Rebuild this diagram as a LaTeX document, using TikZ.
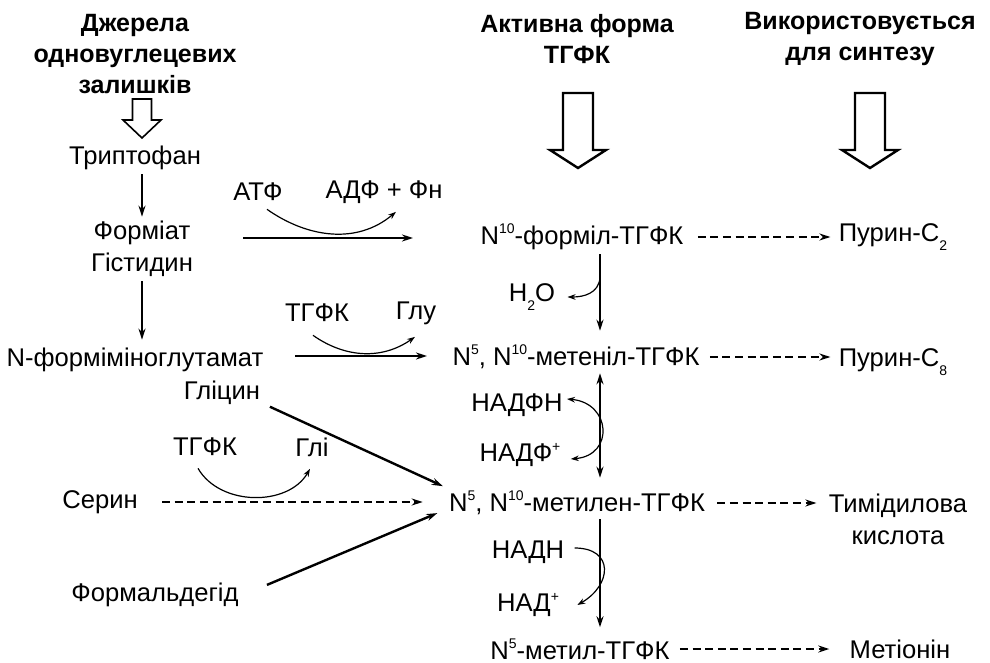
\documentclass[tikz,border=0pt]{standalone}
\usepackage{fontspec}
\setmainfont{Liberation Sans}
\usetikzlibrary{arrows.meta, calc}
\newcommand{\supnum}[1]{\raisebox{0.42em}{\fontsize{7}{8}\selectfont #1}}
\newcommand{\subnum}[1]{\raisebox{-0.36em}{\fontsize{7}{8}\selectfont #1}}

\begin{document}
\begin{tikzpicture}[x=0.5pt, y=-0.5pt, font=\fontsize{12.8}{16}\selectfont, inner sep=2pt,
  head/.style={font=\fontsize{12.5}{15.5}\selectfont\bfseries, align=center},
  arr/.style={-{Stealth[length=5.5pt, width=3.5pt]}, line width=1.2pt},
  dblarr/.style={arr, {Stealth[length=5.5pt, width=3.5pt]}-{Stealth[length=5.5pt, width=3.5pt]}},
  dasharr/.style={arr, dash pattern=on 4pt off 2.3pt},
  curvearr/.style={-{Stealth[length=4pt, width=2.8pt]}, line width=0.6pt},
  dblcurve/.style={curvearr, {Stealth[length=4pt, width=2.8pt]}-{Stealth[length=4pt, width=2.8pt]}},
  hollow/.style={line width=1.2pt, fill=white, line join=miter}]
  \useasboundingbox (0,0) rectangle (990,663);

  % headers
  \node[head] (h1) at (135,54) {Джерела\\одновуглецевих\\залишків};
  \node[head] (h2) at (577,39) {Активна форма\\ТГФК};
  \node[head] (h3) at (860,39) {Використовується\\для синтезу};

  % hollow arrows under the headers
  \draw[hollow, line width=0.8pt] (132.5,99) -- (151.5,99) -- (151.5,120) -- (161,120) -- (142,138)
    -- (123,120) -- (132.5,120) -- cycle;
  \foreach \x in {578,870}
    \draw[hollow] (\x-15,93) -- (\x+15,93) -- (\x+15,150) -- (\x+28,150) -- (\x,168)
      -- (\x-28,150) -- (\x-15,150) -- cycle;

  % sources
  \node (trp) at (135,158) {Триптофан};
  \node (fmt) at (142,233) {Форміат};
  \node (his) at (142,265) {Гістидин};
  \node (nfg) at (135,360) {N-форміміноглутамат};
  \node (gly) at (222,393) {Гліцин};
  \node (ser) at (100,502) {Серин};
  \node (fald) at (155,595) {Формальдегід};

  % cofactors
  \node (atf) at (258,192) {АТФ};
  \node (adf) at (384,192) {АДФ + Фн};
  \node (thf1) at (317,313) {ТГФК};
  \node (glu) at (416,313) {Глу};
  \node (thf2) at (205,447) {ТГФК};
  \node (gli) at (312,447) {Глі};

  % active forms
  \node (f10) at (582,237) {N\supnum{10}-форміл-ТГФК};
  \node (h2o) at (532,297) {H\subnum{2}O};
  \node (m510) at (576,357) {N\supnum{5}, N\supnum{10}-метеніл-ТГФК};
  \node (nadph) at (517,405) {НАДФН};
  \node (nadp) at (520,455) {НАДФ\supnum{+}};
  \node (mt510) at (577,503) {N\supnum{5}, N\supnum{10}-метилен-ТГФК};
  \node (nadh) at (528,552) {НАДН};
  \node (nad) at (528,605) {НАД\supnum{+}};
  \node (me5) at (580,649) {N\supnum{5}-метил-ТГФК};

  % products
  \node (pur2) at (893,237) {Пурин-C\subnum{2}};
  \node (pur8) at (893,362) {Пурин-C\subnum{8}};
  \node[align=center] (thy) at (898,519) {Тимідилова\\кислота};
  \node (met) at (900,649) {Метіонін};

  \coordinate (r1a) at (243,238);
  \coordinate (r1b) at (413,238);
  \coordinate (r2a) at (295,356);
  \coordinate (r2b) at (427,356);
  \coordinate (col) at (600,0);

  % left column
  \draw[arr] (trp.south -| fmt.north) -- (fmt.north);
  \draw[arr, shorten >=2pt] (his.south) -- (nfg.north -| his.south);
  \draw[arr] (r1a) -- (r1b);
  \draw[curvearr] ([xshift=4.5pt, yshift=-2pt]atf.south) to[out=-35, in=-140] ([xshift=6pt, yshift=-2pt]adf.south);
  \draw[arr] (r2a) -- (r2b);
  \draw[curvearr] ([xshift=-2pt, yshift=-4.5pt]thf1.south) to[out=-35, in=-145] ([xshift=-0.5pt, yshift=-4pt]glu.south);
  \draw[dasharr, shorten <=10pt, shorten >=11pt] (ser.east) -- (ser.east -| mt510.west);
  \draw[curvearr] ([xshift=-3.5pt, yshift=-4pt]thf2.south) to[out=-60, in=-120] ([xshift=-1pt, yshift=-4pt]gli.south);
  \draw[arr, shorten <=3pt, shorten >=1pt] ([yshift=2.5pt]gly.south east) -- ([yshift=8pt]mt510.west);
  \draw[arr, shorten <=13pt, shorten >=4pt] (fald.east) -- ([yshift=-3.5pt]mt510.west);

  % middle column
  \draw[arr, shorten >=5pt] (f10.south -| col) -- coordinate[pos=0.27] (w1) (m510.north -| col);
  \draw[curvearr] (w1) to[out=-95, in=0, distance=8pt] ([xshift=4pt]h2o.east);
  \draw[dblarr, shorten >=4.5pt] (m510.south -| col) -- (mt510.north -| col);
  \draw[dblcurve] ([yshift=3pt]nadph.east) to[out=-5, in=5, distance=22pt] ([xshift=3pt, yshift=-2pt]nadp.east);
  \draw[arr, shorten >=3.5pt] (mt510.south -| col) -- (me5.north -| col);
  \draw[curvearr] ([xshift=3pt, yshift=2pt]nadh.east) to[out=0, in=30, distance=20pt] ([xshift=7pt]nad.east);

  % to products
  \draw[dasharr, shorten <=5pt, shorten >=2pt] (f10.east) -- (f10.east -| pur2.west);
  \draw[dasharr, shorten <=3pt, shorten >=2pt] (m510.east) -- (m510.east -| pur8.west);
  \draw[dasharr, shorten <=4pt, shorten >=4pt] (mt510.east) -- (mt510.east -| thy.west);
  \draw[dasharr, shorten <=3pt, shorten >=8pt] (me5.east) -- (me5.east -| met.west);
\end{tikzpicture}
\end{document}
